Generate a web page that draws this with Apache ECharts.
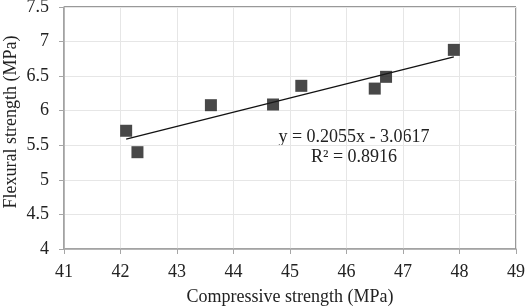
<!DOCTYPE html>
<html><head><meta charset="utf-8">
<script src="https://cdn.jsdelivr.net/npm/echarts@6/dist/echarts.min.js"></script>
<style>html,body{margin:0;padding:0;background:#fff}#c{width:525px;height:307px}</style>
</head><body><div id="c"></div>
<script>
const compressive = [42.1, 42.3, 43.6, 44.7, 45.2, 46.5, 46.7, 47.9];
const flexural = [5.71, 5.40, 6.08, 6.09, 6.36, 6.32, 6.49, 6.88];
const trendX = [42.1, 47.9];
const trendY = [5.59, 6.78];
const equationText = 'y = 0.2055x - 3.0617';
const r2Text = 'R² = 0.8916';
const xTitle = 'Compressive strength (MPa)';
const yTitle = 'Flexural strength (MPa)';

const font = '"Liberation Serif", "DejaVu Serif", serif';
const chart = echarts.init(document.getElementById('c'));
chart.setOption({
  animation: false,
  backgroundColor: '#fff',
  grid: { left: 64, right: 9, top: 7, bottom: 58, outerBoundsMode: 'none', containLabel: false,
          show: true, borderColor: '#333', borderWidth: 1, backgroundColor: 'transparent' },
  xAxis: {
    type: 'value', min: 41, max: 49, interval: 1,
    name: xTitle, nameLocation: 'middle', nameGap: 39, nameMoveOverlap: false,
    nameTextStyle: { fontFamily: font, fontSize: 18, color: '#222' },
    axisLine: { show: true, onZero: false, lineStyle: { color: '#a6a6a6', width: 1.5 } },
    axisTick: { show: true, length: 5, lineStyle: { color: '#a6a6a6' } },
    axisLabel: { fontFamily: font, fontSize: 18, color: '#222', margin: 14 },
    splitLine: { show: true, lineStyle: { color: '#e6e6e6' } }
  },
  yAxis: {
    type: 'value', min: 4, max: 7.5, interval: 0.5,
    name: yTitle, nameLocation: 'middle', nameGap: 44, nameMoveOverlap: false,
    nameTextStyle: { fontFamily: font, fontSize: 18, color: '#222', padding: [0, 0, 0, 12] },
    axisLine: { show: true, onZero: false, lineStyle: { color: '#a6a6a6', width: 1.5 } },
    axisTick: { show: true, length: 5, lineStyle: { color: '#a6a6a6' } },
    axisLabel: { fontFamily: font, fontSize: 18, color: '#222', margin: 15 },
    splitLine: { show: true, lineStyle: { color: '#e6e6e6' } }
  },
  series: [
    {
      type: 'line',
      data: trendX.map((x, i) => [x, trendY[i]]),
      symbol: 'none',
      lineStyle: { color: '#111', width: 1.3 },
      z: 2
    },
    {
      type: 'scatter',
      data: compressive.map((x, i) => [x, flexural[i]]),
      symbol: 'rect', symbolSize: 12,
      itemStyle: { color: '#1a1a1a' },
      z: 3
    }
  ],
  graphic: [
    { type: 'text', x: 354, y: 137, style: { text: equationText, font: '18px ' + font, fill: '#222', textAlign: 'center', textVerticalAlign: 'middle' } },
    { type: 'text', x: 354, y: 157, style: { text: r2Text, font: '18px ' + font, fill: '#222', textAlign: 'center', textVerticalAlign: 'middle' } }
  ]
});
</script></body></html>
